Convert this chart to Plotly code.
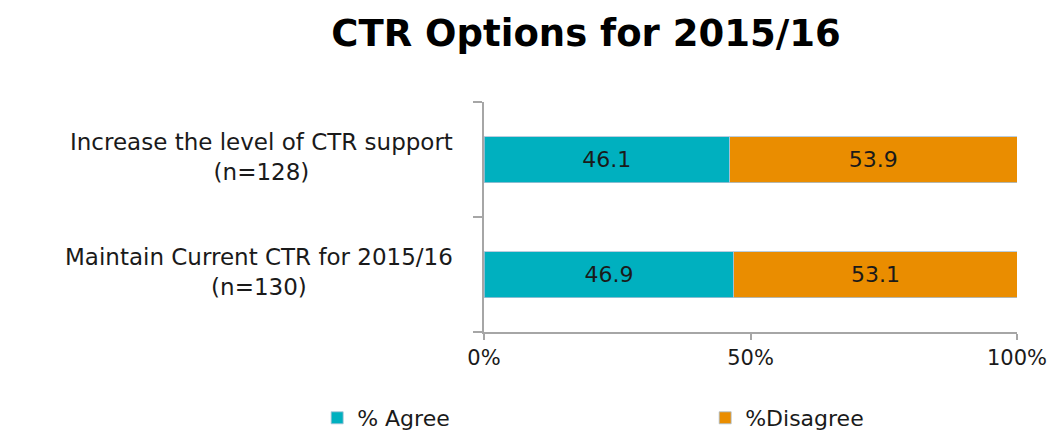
import plotly.graph_objects as go

categories = ["Maintain Current CTR for 2015/16<br>(n=130)",
              "Increase the level of CTR support<br>(n=128)"]
agree = [46.9, 46.1]
disagree = [53.1, 53.9]
series_names = ["% Agree", "%Disagree"]
tick_vals = [0, 50, 100]
tick_text = ["0%", "50%", "100%"]

FONT = "DejaVu Sans"
TXT = "#1a1a1a"
colors = ["#00B0BF", "#EA8D00"]

fig = go.Figure()
for name, vals, col in zip(series_names, [agree, disagree], colors):
    fig.add_trace(go.Bar(
        y=categories, x=vals, name=name, orientation="h",
        marker=dict(color=col, line=dict(color="#A9C0D6", width=0.8)),
        text=[f"{v:.1f}" for v in vals], textposition="inside",
        insidetextanchor="middle",
        textfont=dict(family=FONT, size=22, color=TXT),
    ))

# category labels, centre-aligned, to the left of the axis
for c in categories:
    fig.add_annotation(x=-0.054, xref="paper", xanchor="right",
                       y=c, yref="y", yanchor="middle", yshift=3,
                       text=c, showarrow=False, align="center",
                       font=dict(family=FONT, size=23, color=TXT))

fig.update_layout(
    barmode="stack",
    bargap=0.6,
    width=1057, height=434,
    margin=dict(l=484, r=40, t=102, b=102, autoexpand=False),
    paper_bgcolor="white", plot_bgcolor="white",
    title=dict(text="<b>CTR Options for 2015/16</b>", x=586/1057, xanchor="center",
               y=1 - 33/434, yanchor="middle",
               font=dict(family=FONT, size=37, color="black")),
    font=dict(family=FONT, size=22, color=TXT),
    legend=dict(orientation="h", x=-0.313, xanchor="left", y=-(418 - 332) / 230,
                yanchor="middle",
                entrywidth=343, entrywidthmode="pixels",
                font=dict(family=FONT, size=22, color=TXT),
                traceorder="normal"),
    showlegend=True,
)
fig.update_xaxes(range=[0, 100], tickvals=tick_vals, ticktext=tick_text,
                 showgrid=False, zeroline=False, showline=True,
                 linecolor="#A6A6A6", linewidth=1.5, ticks="outside",
                 ticklen=6, tickcolor="#A6A6A6", tickwidth=1.5,
                 tickfont=dict(family=FONT, size=21, color=TXT))
fig.update_yaxes(type="category", categoryorder="array", categoryarray=categories,
                 showgrid=False, showline=True, linecolor="#A6A6A6", linewidth=1.5,
                 ticks="outside", tickson="boundaries", ticklen=9,
                 tickcolor="#A6A6A6", tickwidth=1.5, showticklabels=False)

fig.write_html("out.html")
